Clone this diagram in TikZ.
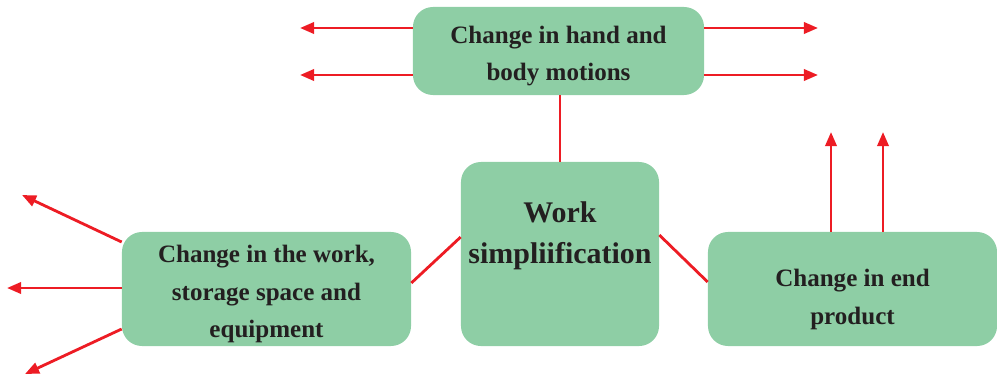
\documentclass[tikz,border=0pt]{standalone}
\usepackage{fontspec}
\setmainfont{Liberation Serif}
\usetikzlibrary{arrows.meta,calc}
\definecolor{boxgreen}{RGB}{142,206,165}
\definecolor{arrred}{RGB}{237,28,36}
\definecolor{txtgray}{RGB}{35,31,32}
\newcommand{\px}{0.025cm}% one pixel of the 997x375 sketch

\tikzset{
  stepbox/.style={fill=boxgreen, rounded corners=0.5cm, inner sep=0pt},
  steptext/.style={align=center, text=txtgray, font=\bfseries\fontsize{17.8}{27}\selectfont},
  bigtext/.style={align=center, text=txtgray, font=\bfseries\fontsize{21.3}{29.2}\selectfont},
  link/.style={draw=arrred, line width=2pt},
}

\begin{document}
\begin{tikzpicture}[x=\px, y=-\px, >={Triangle[length=10pt,width=8pt]}]
  \useasboundingbox (0,0) rectangle (997,375);
  \node[stepbox, minimum width=7.275cm, minimum height=2.2cm] (hand) at (558.5,51) {};
  \node[stepbox, minimum width=4.95cm, minimum height=4.6cm] (work) at (560,254) {};
  \node[stepbox, minimum width=7.225cm, minimum height=2.85cm] (equip) at (266.5,289) {};
  \node[stepbox, minimum width=7.225cm, minimum height=2.85cm] (product) at (852.5,289) {};
  % texts sit a little off the box centres
  \node[steptext] (handtext) at (558.5,56) {Change in hand and\\body motions};
  \node[bigtext] (worktext) at (560,236) {Work\\simpliification};
  \node[steptext] (equiptext) at (266.5,294) {Change in the work,\\storage space and\\equipment};
  \node[steptext] (producttext) at (852.5,299) {Change in end\\product};

  % free ends of the arrows
  \coordinate (hl1) at (300,28); \coordinate (hl2) at (300,75);
  \coordinate (hr1) at (818,28); \coordinate (hr2) at (818,75);
  \coordinate (el1) at (22,195); \coordinate (el2) at (7,288); \coordinate (el3) at (25,374);
  \coordinate (pu1) at (831,132); \coordinate (pu2) at (883,132);

  \draw[link] (hand.south -| work.north) -- (work.north);
  \draw[link] ($(work.west)+(0,-17)$) -- ($(equip.east)+(0,-6)$);
  \draw[link] ($(work.east)+(0,-19)$) -- ($(product.west)+(0,-7)$);
  \draw[link,->] (hand.west |- hl1) -- (hl1);
  \draw[link,->] (hand.west |- hl2) -- (hl2);
  \draw[link,->] (hand.east |- hr1) -- (hr1);
  \draw[link,->] (hand.east |- hr2) -- (hr2);
  \draw[link,->] ($(equip.west)+(0,-47)$) -- (el1);
  \draw[link,->] (equip.west |- el2) -- (el2);
  \draw[link,->] ($(equip.west)+(0,40)$) -- (el3);
  \draw[link,->] (product.north -| pu1) -- (pu1);
  \draw[link,->] (product.north -| pu2) -- (pu2);
\end{tikzpicture}
\end{document}
